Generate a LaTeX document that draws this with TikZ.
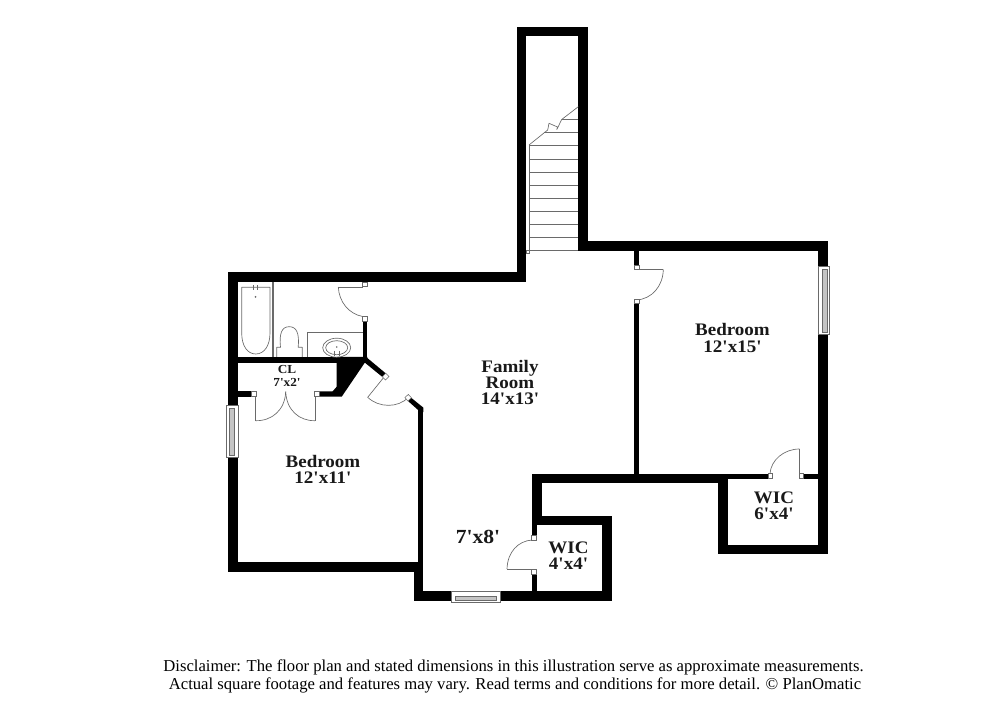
\documentclass[tikz,border=0pt]{standalone}
\usepackage{fontspec}
\newfontfamily\labfont[FakeStretch=1.08]{Liberation Serif}
\newfontfamily\capfont{Liberation Serif}
\definecolor{thinline}{HTML}{6A6A6A}
\definecolor{glass}{HTML}{C4C4C4}
\tikzset{
  wall/.style={fill=black},
  fine/.style={draw=thinline,line width=0.5pt,line join=round},
  jamb/.style={draw=thinline,fill=white,line width=0.4pt},
  winframe/.style={draw=thinline,fill=white,line width=0.5pt},
  winglass/.style={draw=thinline,fill=glass,line width=0.3pt},
  roomlabel/.style={font=\labfont\bfseries\fontsize{13.2}{12.2}\selectfont,align=center,inner sep=0pt,text=black!90},
  smalllabel/.style={font=\labfont\bfseries\fontsize{9.2}{9.2}\selectfont,align=center,inner sep=0pt,text=black!90},
  biglabel/.style={font=\labfont\bfseries\fontsize{15}{15}\selectfont,inner sep=0pt,text=black!90},
  caption/.style={font=\capfont\fontsize{12.5}{13.5}\selectfont,inner sep=0pt,text=black}
}
\begin{document}
\begin{tikzpicture}[x=0.75pt,y=-0.75pt]
\useasboundingbox (0,0) rectangle (1000,727);
% ---------- walls ----------
\fill[wall] (516.7,26.7) rectangle (588.3,36.3);
\fill[wall] (516.7,26.7) rectangle (526.3,282);
\fill[wall] (578.3,26.7) rectangle (588.3,250.7);
\fill[wall] (578.3,240.7) rectangle (828.3,250.7);
\fill[wall] (228.3,272) rectangle (526.3,282);
\fill[wall] (228.3,272) rectangle (238.3,405.5);
\fill[wall] (228.3,457) rectangle (238.3,572);
\fill[wall] (228.3,562) rectangle (423.3,572);
\fill[wall] (418.3,409) rectangle (423.3,572);
\fill[wall] (413.6,562) rectangle (423.3,600.7);
\fill[wall] (413.6,590.7) rectangle (612.3,600.7);
\fill[wall] (602.3,515.7) rectangle (612.3,600.7);
\fill[wall] (531.7,515.7) rectangle (612.3,525);
\fill[wall] (531.7,474) rectangle (541.7,525);
\fill[wall] (531.7,474) rectangle (717.7,483.3);
\fill[wall] (531.7,525) rectangle (536.7,535.5);
\fill[wall] (531.7,574) rectangle (536.7,600);
\fill[wall] (717.7,473.5) rectangle (727.7,554.3);
\fill[wall] (717.7,545) rectangle (828.3,554.3);
\fill[wall] (818.3,240.7) rectangle (828.3,266.7);
\fill[wall] (818.3,334.7) rectangle (828.3,554.3);
\fill[wall] (717.7,473.5) rectangle (768,478.5);
\fill[wall] (803,473.5) rectangle (820,478.5);
\fill[wall] (634,250) rectangle (639,265);
\fill[wall] (634,303.3) rectangle (639,474);
% bath / closet walls
\fill[wall] (238,357) rectangle (340,362.7);
\fill[wall] (362.7,321) rectangle (367.3,360);
\fill[wall] (238,391.3) rectangle (251.5,396.7);
\fill[wall] (336.7,357) -- (367.3,357) -- (367.3,359) -- (341.7,396.7) -- (319,396.7)
  -- (319,391.3) -- (332.7,391.3) -- (336.7,386.7) -- cycle;
\fill[wall] (367.3,358) -- (385.7,373.3) -- (382.3,376.9) -- (363.8,361.8) -- cycle;
\fill[wall] (410.8,397.5) -- (423.3,407.6) -- (423.3,412) -- (418.3,412) -- (418.3,410.2) -- (408,401) -- cycle;
% ---------- windows ----------
\draw[winframe] (226.7,405.5) rectangle (238.3,457);
\draw[winglass] (229.2,408) rectangle (233.8,455);
\draw[winframe] (818.3,266.7) rectangle (829.5,334.7);
\draw[winglass] (822,269) rectangle (827.2,332.5);
\draw[winframe] (451,591.5) rectangle (500,602.7);
\draw[winglass] (455,596) rectangle (496.5,600);
% ---------- stairs ----------
\draw[fine] (529,145) -- (529,250.7);
\draw[fine] (526.3,250.7) -- (578.3,250.7);
\foreach \ty in {237.7,224.7,211.7,198.3,185.3,172,159,145.7}{
  \draw[fine] (529,\ty) -- (578.3,\ty);
}
\draw[fine] (544,132.7) -- (578.3,132.7);
\draw[fine] (562,119.3) -- (578.3,119.3);
\draw[fine] (529,145) -- (547.7,130) -- (549,123.3) -- (557.5,127) -- (556.8,129.5)
  -- (561.7,119.5) -- (578.3,106.7);
\draw[jamb] (526.3,250) rectangle (529.5,253);
% ---------- doors ----------
% bathroom door
\draw[fine] (338.3,287) -- (363,287) ;
\draw[fine] (338.3,287) .. controls (339,302) and (349,314) .. (362.7,316.5);
\draw[jamb] (362.7,282) rectangle (367.7,286.7);
\draw[jamb] (362.7,316.2) rectangle (367.3,321);
% closet double doors
\draw[fine] (255.7,396.7) -- (255.7,420.7);
\draw[fine] (255.7,420.7) .. controls (272,421) and (285,410) .. (285.7,391.7);
\draw[fine] (315,396.7) -- (315,420.7);
\draw[fine] (315,420.7) .. controls (299,421) and (286.5,410) .. (285.7,391.7);
\draw[jamb] (251.5,391.3) rectangle (256,396.7);
\draw[jamb] (314.5,391.3) rectangle (319,396.7);
% bedroom 12x11 door
\draw[fine] (384.5,376.5) -- (367.7,397.3);
\draw[fine] (367.7,397.3) .. controls (379,408) and (398,408) .. (408.3,397.5);
\draw[jamb] (382.3,376.9) -- (385.7,373.3) -- (389,376.5) -- (385.6,380) -- cycle;
\draw[jamb] (408,401) -- (404.9,397.6) -- (408.3,394.4) -- (411.4,397.8) -- cycle;
% bedroom 12x15 door
\draw[fine] (636.5,269.5) -- (663.3,269.5);
\draw[fine] (663.3,269.5) .. controls (663,286) and (652,299) .. (636.5,300);
\draw[jamb] (634,265) rectangle (639,269.5);
\draw[jamb] (634,299) rectangle (639,303.5);
% WIC 6x4 door
\draw[fine] (799.5,473.5) -- (799.5,449);
\draw[fine] (799.5,449) .. controls (784,449) and (771,460) .. (770,473.5);
\draw[jamb] (768,473.5) rectangle (772,478.5);
\draw[jamb] (799,473.5) rectangle (803.5,478.5);
% WIC 4x4 door
\draw[fine] (507,569) -- (534,569);
\draw[fine] (507,569) .. controls (507.5,552) and (518,541) .. (532,540);
\draw[jamb] (531.7,535.5) rectangle (536.7,540);
\draw[jamb] (531.7,569.5) rectangle (536.7,574);
% ---------- fixtures ----------
\draw[fine] (272,282) -- (272,357);
\draw[fine] (273.3,282) -- (273.3,357);
\draw[fine] (241.7,287.3) -- (270,287.3) -- (270,333) .. controls (270,346) and (264,354) .. (255.8,354)
  .. controls (247.5,354) and (241.7,346) .. (241.7,333) -- cycle;
\draw[fine] (253.3,285.5) -- (253.3,290.5);
\draw[fine] (257.3,285.5) -- (257.3,290.5);
\fill[thinline] (255.5,296.8) circle (1);
% toilet
\draw[fine] (276.7,357) -- (276.7,347.3) -- (280.5,347.3) .. controls (279,333) and (282,326.7) .. (289.2,326.7)
  .. controls (296.5,326.7) and (299.5,333) .. (298.2,347.3) -- (302.3,347.3) -- (302.3,357);
% sink
\draw[fine] (307.3,357) -- (307.3,332.3) -- (362.7,332.3);
\draw[fine] (336.7,347.7) ellipse [x radius=14,y radius=9.5];
\draw[fine] (336.7,347.7) ellipse [x radius=11,y radius=7];
\draw[fine] (334,351) -- (334,356.5);
\draw[fine] (339.3,351) -- (339.3,356.5);
\fill[thinline] (336.7,347) circle (0.9);
% ---------- labels ----------
\node[roomlabel] (family) at (510,382.5) {Family\\Room\\14'x13'};
\node[roomlabel] (bedroomA) at (732.5,338) {Bedroom\\12'x15'};
\node[roomlabel] (bedroomB) at (323,469.5) {Bedroom\\12'x11'};
\node[smalllabel] (closet) at (287,376) {CL\\7'x2'};
\node[roomlabel] (wicA) at (774,506) {WIC\\6'x4'};
\node[roomlabel] (wicB) at (568.5,556) {WIC\\4'x4'};
\node[biglabel] (hall) at (478,537) {7'x8'};
\node[caption] (capA) at (513.5,667) {Disclaimer: The floor plan and stated dimensions in this illustration serve as approximate measurements.};
\node[caption] (capB) at (515,685) {Actual square footage and features may vary. Read terms and conditions for more detail. © PlanOmatic};
\end{tikzpicture}
\end{document}
